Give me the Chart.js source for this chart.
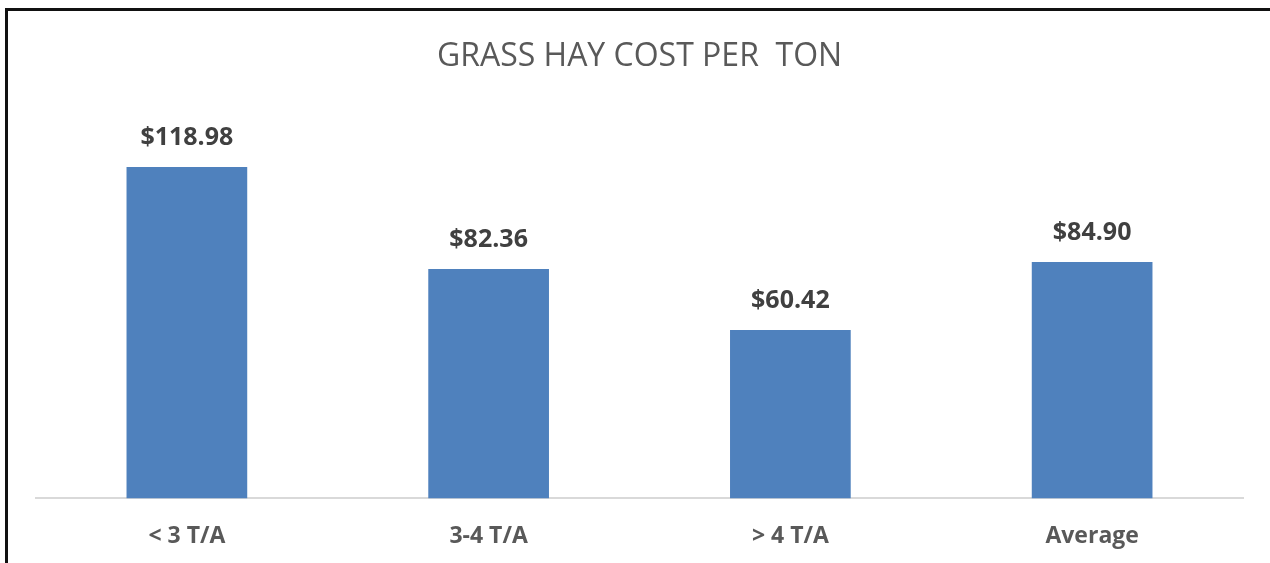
<!DOCTYPE html>
<html>
<head>
<meta charset="utf-8">
<script src="https://cdn.jsdelivr.net/npm/chart.js@4/dist/chart.umd.min.js"></script>
<style>
  html, body { margin: 0; padding: 0; background: #fff; overflow: hidden; }
  #wrap { position: absolute; left: 0; top: 0; width: 1270px; height: 563px; }
  #frame { position: absolute; left: 5px; top: 8px; width: 1300px; height: 600px;
           border-top: 3px solid #111; border-left: 3px solid #111; }
</style>
</head>
<body>
<div id="wrap">
  <div id="frame"></div>
  <canvas id="chart" width="1270" height="563"></canvas>
</div>
<script>
// Daten
const categories = ['< 3 T/A', '3-4 T/A', '> 4 T/A', 'Average'];
const costs = [118.98, 82.36, 60.42, 84.90];
const chartTitle = 'GRASS HAY COST PER  TON';

const FONT = '"Open Sans", "Noto Sans", sans-serif';

// Wertbeschriftung über den Balken
const valueLabels = {
    id: 'valueLabels',
    afterDatasetsDraw(chart) {
        const ctx = chart.ctx;
        const meta = chart.getDatasetMeta(0);
        ctx.save();
        ctx.font = 'bold 25px ' + FONT;
        ctx.fillStyle = '#404040';
        ctx.textAlign = 'center';
        ctx.textBaseline = 'middle';
        meta.data.forEach((bar, i) => {
            ctx.fillText('$' + costs[i].toFixed(2), bar.x, bar.y - 29);
        });
        ctx.restore();
    }
};

new Chart(document.getElementById('chart').getContext('2d'), {
    type: 'bar',
    data: {
        labels: categories,
        datasets: [{
            data: costs,
            backgroundColor: '#4F81BD',
            borderWidth: 0,
            categoryPercentage: 1,
            barPercentage: 0.4
        }]
    },
    options: {
        responsive: false,
        animation: false,
        layout: { padding: { left: 36, right: 27, top: 11, bottom: -11 } },
        plugins: {
            legend: { display: false },
            tooltip: { enabled: false },
            title: {
                display: true,
                text: chartTitle,
                color: '#595959',
                font: { family: FONT, size: 32, weight: 'normal' },
                padding: { top: 27, bottom: 32 }
            }
        },
        scales: {
            x: {
                grid: { display: false, drawTicks: false },
                border: { color: '#d9d9d9', width: 2 },
                ticks: {
                    color: '#595959',
                    padding: 24,
                    font: { family: FONT, size: 23, weight: 'bold' }
                }
            },
            y: {
                display: false,
                min: 0,
                max: 140
            }
        }
    },
    plugins: [valueLabels]
});
</script>
</body>
</html>
